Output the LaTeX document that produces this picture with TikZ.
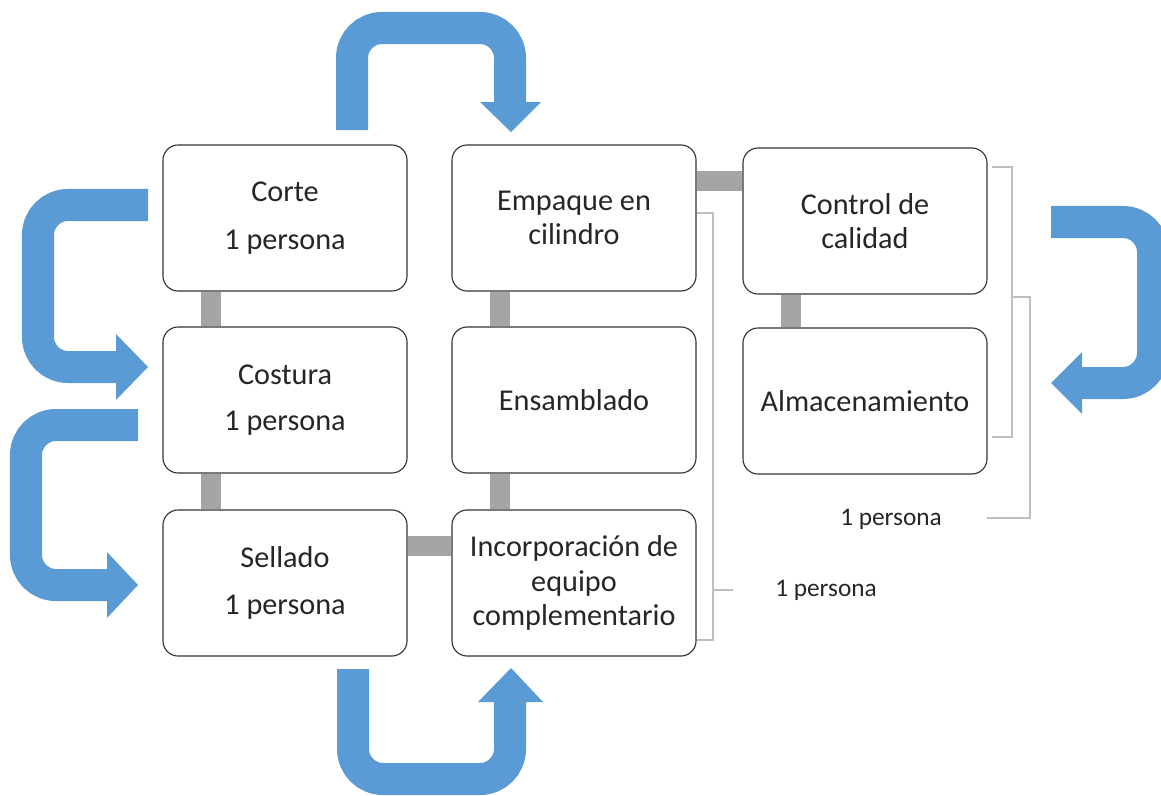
\documentclass[tikz,border=0pt]{standalone}
\usepackage{fontspec}
\setmainfont{Carlito}
\usetikzlibrary{calc, backgrounds}
\definecolor{flowblue}{HTML}{5B9BD5}
\definecolor{linkgray}{HTML}{A5A5A5}
\definecolor{bracegray}{HTML}{BFBFBF}

\begin{document}
\begin{tikzpicture}[
    x=0.025cm, y=-0.025cm,
    stage/.style={draw=black!80, line width=0.8pt, rounded corners=0.38cm, fill=white,
        minimum width=6.1cm, minimum height=3.65cm, align=center,
        font=\fontsize{21.5}{24.5}\selectfont, text=black!85},
    link/.style={linkgray, line width=0.5cm},
    flow/.style={flowblue, line width=0.8cm, rounded corners=0.75cm},
    tip/.style={fill=flowblue},
    bracket/.style={bracegray, line width=1pt},
    note/.style={font=\fontsize{18}{22}\selectfont, text=black!85}
]
    \useasboundingbox (0,0) rectangle (1161,795);
    \clip (0,0) rectangle (1161,795);

    % First column
    \node at (285,218) [stage] (corte) {Corte\\[0.35cm]1 persona};
    \node at (285,400) [stage] (costura) {Costura\\[0.3cm]1 persona};
    \node at (285,583) [stage] (sellado) {Sellado\\[0.33cm]1 persona};

    % Second column
    \node at (574,218) [stage] (empaque) {Empaque en\\cilindro};
    \node at (574,400) [stage] (ensamblado) {Ensamblado};
    \node at (574,583) [stage] (incorp) {Incorporación de\\equipo\\complementario};

    % Third column
    \node at (865,221) [stage] (control) {Control de\\calidad};
    \node at (865,401) [stage] (almacen) {Almacenamiento};

    % Gray links behind the boxes
    \begin{scope}[on background layer]
        \draw[link] ($(corte.south west)!0.2!(corte.south east)$) -- ($(costura.north west)!0.2!(costura.north east)$);
        \draw[link] ($(costura.south west)!0.2!(costura.south east)$) -- ($(sellado.north west)!0.2!(sellado.north east)$);
        \draw[link] ($(empaque.south west)!0.2!(empaque.south east)$) -- ($(ensamblado.north west)!0.2!(ensamblado.north east)$);
        \draw[link] ($(ensamblado.south west)!0.2!(ensamblado.south east)$) -- ($(incorp.north west)!0.2!(incorp.north east)$);
        \draw[link] ($(control.south west)!0.2!(control.south east)$) -- ($(almacen.north west)!0.2!(almacen.north east)$);
        \draw[link] ($(sellado.north east)!0.25!(sellado.south east)$) -- ($(incorp.north west)!0.25!(incorp.south west)$);
        \coordinate (e1) at ($(empaque.north east)!0.25!(empaque.south east)$);
        \draw[link] (e1) -- (e1 -| control.west);
    \end{scope}

    % Blue flow arrows
    \draw[flow] (352,130) -- (352,28) -- (510,28) -- (510,104);
    \fill[tip] (480,102) -- (541,102) -- (511,132) -- cycle;

    \draw[flow] (353,669) -- (353,779) -- (510,779) -- (510,700);
    \fill[tip] (478,702) -- (543,702) -- (511,668) -- cycle;

    \draw[flow] (148,205) -- (38,205) -- (38,367) -- (118,367);
    \fill[tip] (116,334) -- (116,400) -- (148,367) -- cycle;

    \draw[flow] (138,425) -- (26,425) -- (26,585) -- (109,585);
    \fill[tip] (107,552) -- (107,618) -- (138,585) -- cycle;

    \draw[flow] (1051,222) -- (1153,222) -- (1153,383) -- (1080,383);
    \fill[tip] (1082,352) -- (1082,414) -- (1051,383) -- cycle;

    % Staff brackets
    \node at (826,590) [note] (persona1) {1 persona};
    \node at (891,519) [note] (persona2) {1 persona};
    \draw[bracket] (697,213) -- (713,213) -- (713,640) -- (697,640);
    \draw[bracket] (713,590) -- (733,590);
    \draw[bracket] (992,167) -- (1012,167) -- (1012,437) -- (992,437);
    \draw[bracket] (1012,297) -- (1030,297) -- (1030,518) -- (987,518);
\end{tikzpicture}
\end{document}
